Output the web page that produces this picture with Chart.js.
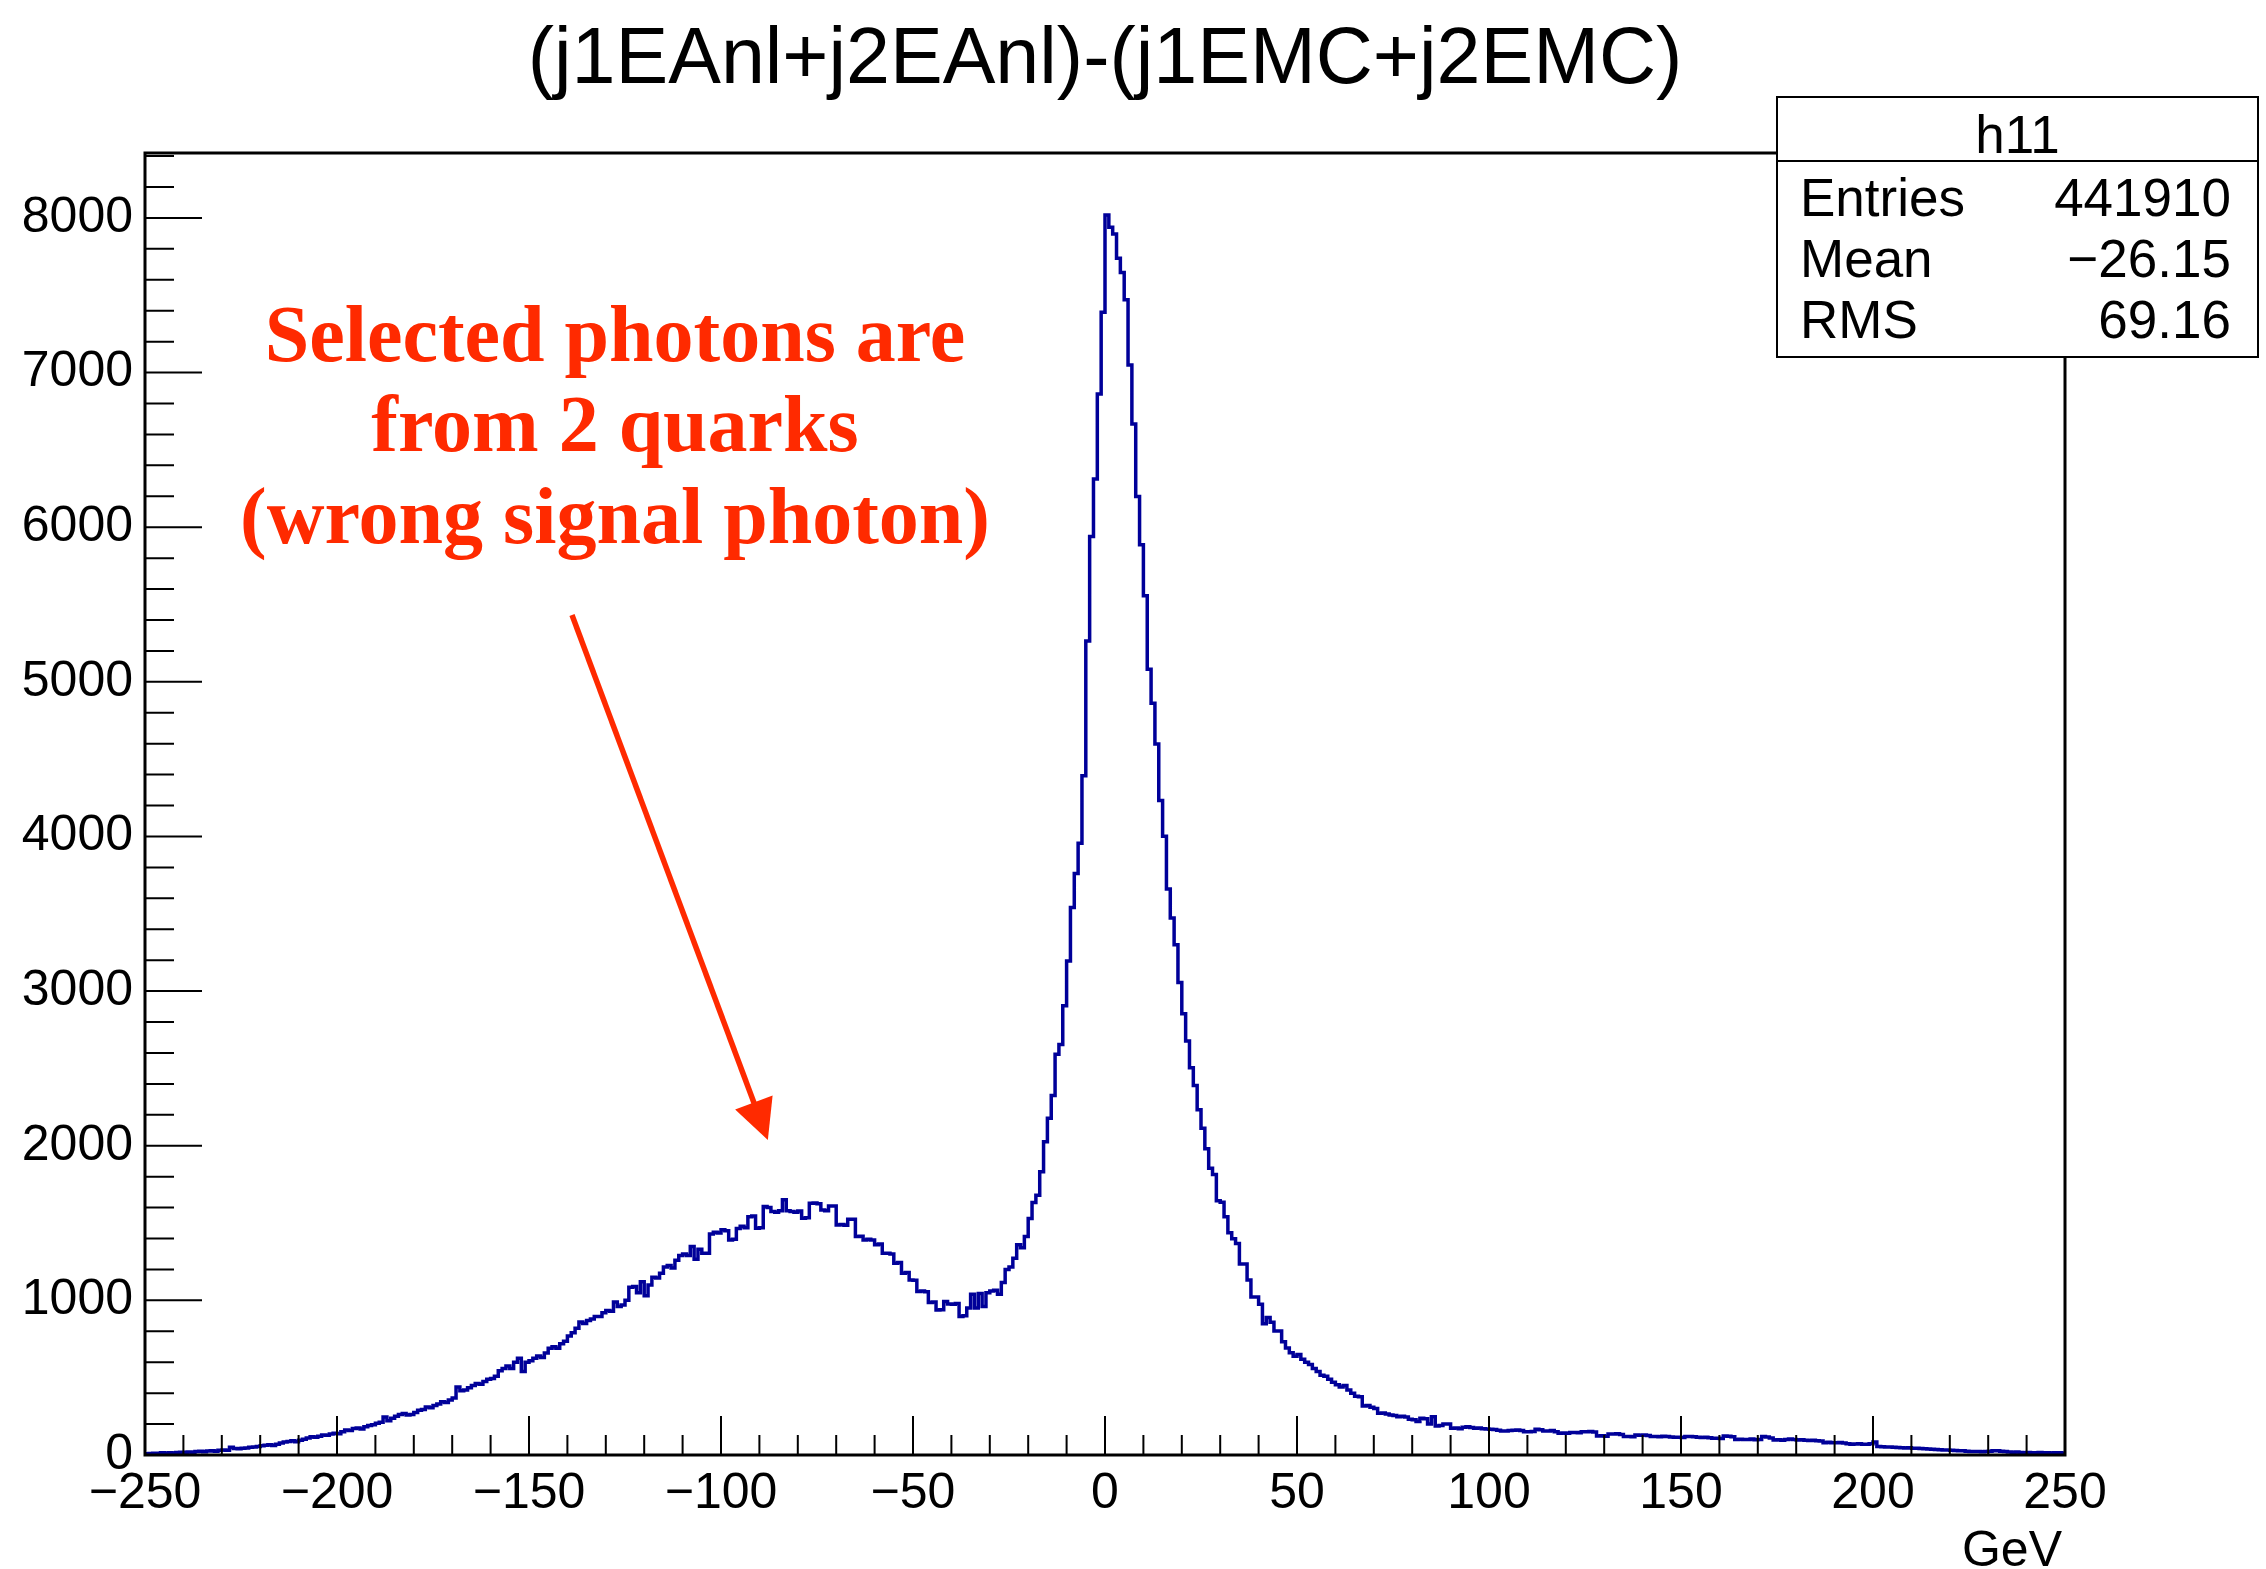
<!DOCTYPE html>
<html>
<head>
<meta charset="utf-8">
<title>h11</title>
<script src="https://cdn.jsdelivr.net/npm/chart.js@4.4.1/dist/chart.umd.min.js"></script>
<style>
  html, body { margin: 0; padding: 0; background: #fff; }
  canvas { display: block; }
</style>
</head>
<body>
<canvas id="h11" width="2266" height="1569"></canvas>
<script>
// histogram binning (GeV)
const xMin = -250;
const xMax = 250;
const binWidth = 1;

// y axis range and tick steps
const yMin = 0;
const yMax = 8420;
const xMajorStep = 50, xMinorStep = 10;
const yMajorStep = 1000, yMinorStep = 200;

// labelled ticks
const xTickValues = [-250, -200, -150, -100, -50, 0, 50, 100, 150, 200, 250];
const yTickValues = [0, 1000, 2000, 3000, 4000, 5000, 6000, 7000, 8000];

// bin contents, one per GeV from -250 to 250
const counts = [
    8, 10, 12, 10, 14, 12, 15, 13, 16, 18,                          // -250
    18, 20, 17, 22, 24, 21, 26, 28, 25, 30,                         // -240
    32, 30, 50, 42, 40, 44, 46, 50, 52, 55,                         // -230
    60, 63, 66, 62, 70, 78, 84, 88, 92, 86,                         // -220
    95, 102, 110, 118, 115, 122, 130, 128, 135, 140,                // -210
    138, 150, 162, 158, 172, 175, 168, 182, 190, 196,               // -200
    205, 212, 245, 222, 238, 250, 262, 268, 258, 262,               // -190
    275, 290, 295, 310, 305, 320, 330, 345, 340, 355,               // -180
    368, 440, 415, 420, 435, 450, 462, 458, 475, 490,               // -170
    495, 510, 545, 560, 575, 560, 600, 625, 540, 600,               // -160
    610, 625, 640, 630, 660, 690, 700, 690, 720, 735,               // -150
    770, 790, 820, 860, 850, 870, 880, 895, 895, 920,               // -140
    935, 930, 990, 960, 970, 1000, 1085, 1090, 1050, 1120,          // -130
    1030, 1100, 1150, 1145, 1175, 1215, 1225, 1210, 1260, 1290,     // -120
    1300, 1290, 1348, 1266, 1330, 1305, 1305, 1430, 1440, 1435,     // -110
    1456, 1450, 1391, 1395, 1465, 1480, 1470, 1540, 1545, 1466,     // -100
    1470, 1607, 1600, 1575, 1570, 1580, 1650, 1580, 1575, 1570,     // -90
    1578, 1531, 1535, 1628, 1630, 1625, 1585, 1580, 1611, 1611,     // -80
    1488, 1490, 1485, 1525, 1525, 1413, 1415, 1391, 1395, 1390,     // -70
    1360, 1365, 1305, 1305, 1300, 1240, 1245, 1176, 1180, 1132,     // -60
    1130, 1057, 1060, 1055, 986, 990, 938, 940, 992, 977,           // -50
    975, 980, 895, 900, 950, 1040, 950, 1045, 960, 1050,            // -40
    1060, 1065, 1040, 1115, 1200, 1215, 1272, 1360, 1340, 1413,     // -30
    1529, 1633, 1680, 1831, 2026, 2177, 2325, 2592, 2655, 2906,     // -20
    3195, 3541, 3761, 3956, 4393, 5264, 5940, 6311, 6861, 7390,     // -10
    8019, 7940, 7896, 7739, 7648, 7471, 7049, 6667, 6199, 5886,     // 0
    5556, 5081, 4862, 4598, 4233, 4001, 3661, 3473, 3300, 3055,     // 10
    2854, 2678, 2505, 2389, 2232, 2113, 1981, 1855, 1814, 1644,     // 20
    1635, 1540, 1437, 1399, 1368, 1236, 1236, 1132, 1022, 1022,     // 30
    975, 849, 890, 858, 802, 802, 733, 692, 661, 639,               // 40
    650, 620, 600, 585, 560, 540, 515, 510, 490, 470,               // 50
    455, 440, 450, 420, 400, 380, 377, 317, 320, 309,               // 60
    300, 270, 272, 265, 259, 255, 248, 250, 245, 231,               // 70
    228, 216, 237, 235, 201, 248, 188, 190, 201, 200,               // 80
    173, 175, 170, 179, 182, 178, 173, 175, 170, 168,               // 90
    166, 165, 160, 156, 155, 158, 160, 162, 158, 151,               // 100
    150, 152, 166, 164, 156, 155, 158, 150, 140, 142,               // 110
    140, 145, 146, 144, 151, 150, 152, 148, 123, 125,               // 120
    122, 136, 135, 138, 132, 119, 120, 118, 129, 128,               // 130
    130, 126, 119, 120, 118, 122, 119, 117, 114, 115,               // 140
    113, 119, 120, 118, 114, 113, 115, 112, 108, 109,               // 150
    106, 123, 121, 118, 101, 102, 100, 101, 103, 99,                // 160
    101, 119, 117, 110, 97, 98, 96, 101, 103, 100,                  // 170
    97, 99, 96, 93, 95, 92, 90, 80, 82, 79,                         // 180
    80, 81, 78, 72, 70, 71, 72, 70, 69, 72,                         // 190
    84, 55, 54, 52, 51, 50, 49, 47, 46, 47,                         // 200
    44, 43, 42, 40, 38, 37, 36, 34, 33, 32,                         // 210
    30, 29, 28, 27, 25, 22, 23, 22, 21, 22,                         // 220
    24, 27, 28, 25, 22, 19, 18, 19, 16, 15,                         // 230
    16, 14, 15, 16, 14, 15, 13, 15, 14, 13                          // 240
];

// title, stats box and note
const titleText = '(j1EAnl+j2EAnl)-(j1EMC+j2EMC)';
const statsName = 'h11';
const statsLabels = ['Entries', 'Mean', 'RMS'];
const statsValues = ['441910', '\u221226.15', '69.16'];
const noteLines = ['Selected photons are', 'from 2 quarks', '(wrong signal photon)'];

const fontSans = '"Liberation Sans", Arial, Helvetica, sans-serif';
const fontSerif = '"Liberation Serif", "Times New Roman", serif';
const noteColor = '#ff2a00';

// step outline: one point per lower bin edge plus the closing edge
const points = counts.map((c, i) => ({ x: xMin + i * binWidth, y: c }));
points.push({ x: xMax, y: counts[counts.length - 1] });

function signed(v) {
    return v < 0 ? '\u2212' + Math.abs(v) : String(v);
}

const rootStyle = {
    id: 'rootStyle',
    afterDatasetsDraw(chart) {
        const { ctx, chartArea: a, scales: { x, y } } = chart;
        ctx.save();

        // title
        ctx.fillStyle = '#000';
        ctx.font = '79px ' + fontSans;
        ctx.textAlign = 'center';
        ctx.textBaseline = 'alphabetic';
        ctx.fillText(titleText, 1105, 83);

        // inward ticks on the y and x axes
        ctx.strokeStyle = '#000';
        ctx.lineWidth = 2;
        ctx.beginPath();
        for (let v = yMin; v <= yMax; v += yMinorStep) {
            const py = y.getPixelForValue(v);
            const len = v % yMajorStep === 0 ? 57 : 29;
            ctx.moveTo(a.left, py);
            ctx.lineTo(a.left + len, py);
        }
        for (let v = xMin; v <= xMax; v += xMinorStep) {
            const px = x.getPixelForValue(v);
            const len = v % xMajorStep === 0 ? 39 : 20;
            ctx.moveTo(px, a.bottom);
            ctx.lineTo(px, a.bottom - len);
        }
        ctx.stroke();

        // frame
        ctx.lineWidth = 3;
        ctx.strokeRect(a.left, a.top, a.right - a.left, a.bottom - a.top);

        // axis unit
        ctx.font = '50px ' + fontSans;
        ctx.textAlign = 'right';
        ctx.fillText('GeV', a.right - 3, 1566);

        // stats box
        const bx = 1777, by = 97, bw = 481, bh = 260, rowH = 64;
        ctx.fillStyle = '#fff';
        ctx.fillRect(bx, by, bw, bh);
        ctx.lineWidth = 2;
        ctx.strokeRect(bx, by, bw, bh);
        ctx.beginPath();
        ctx.moveTo(bx, by + rowH);
        ctx.lineTo(bx + bw, by + rowH);
        ctx.stroke();
        ctx.fillStyle = '#000';
        ctx.font = '53px ' + fontSans;
        ctx.textAlign = 'center';
        ctx.fillText(statsName, bx + bw / 2, by + 56);
        statsLabels.forEach((lab, i) => {
            const base = 216 + i * 61;
            ctx.textAlign = 'left';
            ctx.fillText(lab, bx + 23, base);
            ctx.textAlign = 'right';
            ctx.fillText(statsValues[i], bx + bw - 27, base);
        });

        // note and arrow pointing at the bump
        ctx.fillStyle = noteColor;
        ctx.strokeStyle = noteColor;
        ctx.font = 'bold 80px ' + fontSerif;
        ctx.textAlign = 'center';
        const tx = x.getPixelForValue(-127.6);
        [7075, 6493, 5898].forEach((v, i) => ctx.fillText(noteLines[i], tx, y.getPixelForValue(v)));

        const x0 = x.getPixelForValue(-138.8), y0 = y.getPixelForValue(5432);
        const x1 = x.getPixelForValue(-87.8), y1 = y.getPixelForValue(2037);
        const len = Math.hypot(x1 - x0, y1 - y0);
        const ux = (x1 - x0) / len, uy = (y1 - y0) / len;
        const headLen = 40, headHalf = 20;
        const hx = x1 - ux * headLen, hy = y1 - uy * headLen;
        ctx.lineWidth = 5.5;
        ctx.beginPath();
        ctx.moveTo(x0, y0);
        ctx.lineTo(hx + ux * 4, hy + uy * 4);
        ctx.stroke();
        ctx.beginPath();
        ctx.moveTo(x1, y1);
        ctx.lineTo(hx - uy * headHalf, hy + ux * headHalf);
        ctx.lineTo(hx + uy * headHalf, hy - ux * headHalf);
        ctx.closePath();
        ctx.fill();

        ctx.restore();
    }
};

Chart.defaults.font.family = fontSans;
Chart.defaults.color = '#000';

new Chart(document.getElementById('h11'), {
    type: 'line',
    data: {
        datasets: [{
            label: statsName,
            data: points,
            stepped: true,
            borderColor: '#000099',
            borderWidth: 3.5,
            pointRadius: 0,
            fill: false
        }]
    },
    options: {
        responsive: false,
        animation: false,
        devicePixelRatio: 1,
        layout: { padding: { left: 0, right: 201, top: 153, bottom: 0 } },
        plugins: {
            legend: { display: false },
            tooltip: { enabled: false },
            title: { display: false }
        },
        scales: {
            x: {
                type: 'linear',
                min: xMin,
                max: xMax,
                grid: { display: false, drawTicks: false },
                border: { display: false },
                ticks: {
                    autoSkip: false,
                    maxRotation: 0,
                    padding: 9,
                    font: { size: 50 },
                    callback: v => signed(v)
                },
                afterBuildTicks(scale) { scale.ticks = xTickValues.map(v => ({ value: v })); },
                afterFit(scale) { scale.height = 114; }
            },
            y: {
                min: yMin,
                max: yMax,
                grid: { display: false, drawTicks: false },
                border: { display: false },
                ticks: {
                    autoSkip: false,
                    padding: 12,
                    font: { size: 50 },
                    callback: v => signed(v)
                },
                afterBuildTicks(scale) { scale.ticks = yTickValues.map(v => ({ value: v })); },
                afterFit(scale) { scale.width = 145; }
            }
        }
    },
    plugins: [rootStyle]
});
</script>
</body>
</html>
